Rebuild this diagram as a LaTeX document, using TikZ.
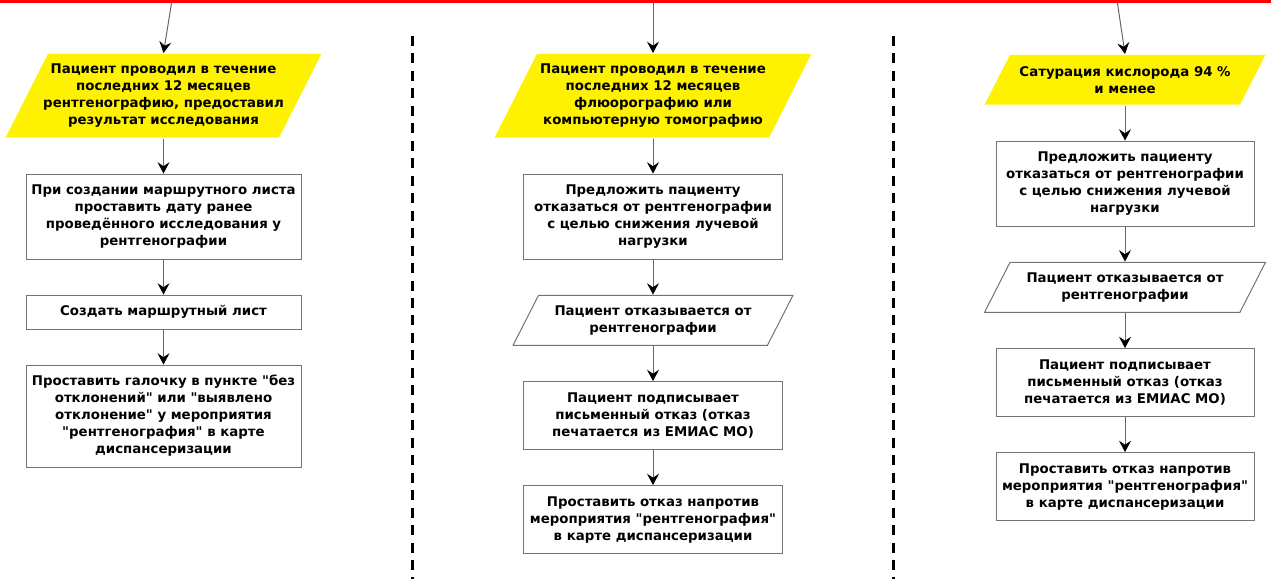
\documentclass[tikz,border=0pt]{standalone}
\usepackage{fontspec}
\setmainfont{DejaVu Sans}[Ligatures=TeXOff]
\usetikzlibrary{positioning, arrows.meta, calc}

\begin{document}
\begin{tikzpicture}
[ x=0.75pt, y=-0.75pt, node distance=26.25pt
, font=\bfseries\fontsize{10}{12.75}\selectfont
, procbox/.style={rectangle, draw=black!55, line width=0.75pt, align=center, inner sep=1pt, minimum height={12.75pt*#1+12.75pt}}
, databox/.style 2 args={rectangle, align=center, inner sep=1pt, minimum height={12.75pt*#1+12.75pt},
    path picture={\path[#2] let \p1=(path picture bounding box.north west), \p2=(path picture bounding box.south east) in
      (\x1+0.5*\y1-0.5*\y2+0.4pt,\y1-0.4pt) -- (\x2-0.4pt,\y1-0.4pt) -- (\x2-0.5*\y1+0.5*\y2-0.4pt,\y2+0.4pt) -- (\x1+0.4pt,\y2+0.4pt) -- cycle;}}
, flow/.style={draw=black!60, line width=0.75pt, -{Stealth[length=8.5pt, width=9pt, inset=3pt, black]}}
, divider/.style={line width=2.25pt, dash pattern=on 7.5pt off 5.6pt}
]
\useasboundingbox (0,0) rectangle (1271,579);
% Separators:
\draw [divider] (412,36) -- (412,579);
\draw [divider] (893,36) -- (893,579);
% First column:
\coordinate (in1) at (172,0);
\node (q1) [databox={4}{fill=yellow}, minimum width=237.75pt, anchor=north] at (163.5,53)
  {Пациент проводил в течение\\последних 12 месяцев\\рентгенографию, предоставил\\результат исследования};
\node (b1) [procbox=4, minimum width=206.25pt, below=of q1]
  {При создании маршрутного листа\\проставить дату ранее\\проведённого исследования у\\рентгенографии};
\node (b2) [procbox=1, minimum width=206.25pt, below=of b1] {Создать маршрутный лист};
\node (b3) [procbox=5, minimum width=206.25pt, below=of b2]
  {Проставить галочку в пункте "без\\отклонений" или "выявлено\\отклонение" у мероприятия\\"рентгенография" в карте\\диспансеризации};
% Second column:
\coordinate (in2) at (653,0);
\node (q2) [databox={4}{fill=yellow}, minimum width=238.5pt, anchor=north] at (653,53)
  {Пациент проводил в течение\\последних 12 месяцев\\флюорографию или\\компьютерную томографию};
\node (c1) [procbox=4, minimum width=194.25pt, below=of q2]
  {Предложить пациенту\\отказаться от рентгенографии\\с целью снижения лучевой\\нагрузки};
\node (c2) [databox={2}{fill=white, draw=black!55, line width=0.75pt}, minimum width=210.75pt, below=of c1]
  {Пациент отказывается от\\рентгенографии};
\node (c3) [procbox=3, minimum width=194.25pt, below=of c2]
  {Пациент подписывает\\письменный отказ (отказ\\печатается из ЕМИАС МО)};
\node (c4) [procbox=3, minimum width=194.25pt, below=of c3]
  {Проставить отказ напротив\\мероприятия "рентгенография"\\в карте диспансеризации};
% Third column:
\coordinate (in3) at (1117,0);
\node (q3) [databox={2}{fill=yellow}, minimum width=211.5pt, anchor=north] at (1125,54)
  {Сатурация кислорода 94 \%\\и менее};
\node (d1) [procbox=4, minimum width=193.5pt, below=of q3]
  {Предложить пациенту\\отказаться от рентгенографии\\с целью снижения лучевой\\нагрузки};
\node (d2) [databox={2}{fill=white, draw=black!55, line width=0.75pt}, minimum width=211.5pt, below=of d1]
  {Пациент отказывается от\\рентгенографии};
\node (d3) [procbox=3, minimum width=193.5pt, below=of d2]
  {Пациент подписывает\\письменный отказ (отказ\\печатается из ЕМИАС МО)};
\node (d4) [procbox=3, minimum width=193.5pt, below=of d3]
  {Проставить отказ напротив\\мероприятия "рентгенография"\\в карте диспансеризации};
% Connectors:
\draw [flow] (in1) -- (q1.north);
\draw [flow] (q1) -- (b1);
\draw [flow] (b1) -- (b2);
\draw [flow] (b2) -- (b3);
\draw [flow] (in2) -- (q2.north);
\draw [flow] (q2) -- (c1);
\draw [flow] (c1) -- (c2);
\draw [flow] (c2) -- (c3);
\draw [flow] (c3) -- (c4);
\draw [flow] (in3) -- (q3.north);
\draw [flow] (q3) -- (d1);
\draw [flow] (d1) -- (d2);
\draw [flow] (d2) -- (d3);
\draw [flow] (d3) -- (d4);
% Top rule:
\fill [red] (0,0) rectangle (1271,2.7);
\end{tikzpicture}
\end{document}
